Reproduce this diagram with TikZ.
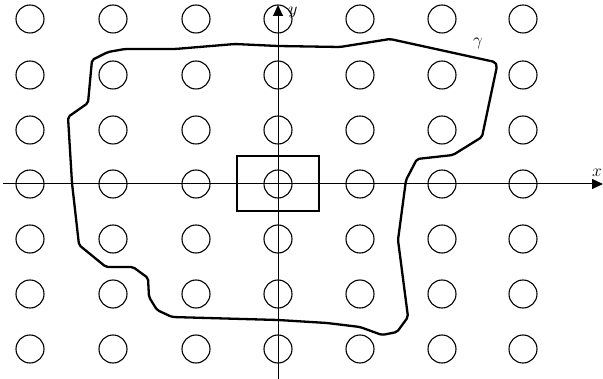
\documentclass[tikz,border=0pt]{standalone}
\usetikzlibrary{arrows.meta}
\begin{document}
\begin{tikzpicture}[x=1pt,y=-1pt,
    hole/.style={circle,draw,line width=1.1pt,minimum size=28pt,inner sep=0pt},
    axis/.style={line width=1pt,-{Triangle[length=11pt,width=10pt]}},
    lab/.style={font=\fontsize{17}{17}\selectfont,inner sep=1pt}]
  \useasboundingbox (0,0) rectangle (603,379);
  % lattice of holes
  \foreach \i/\x in {1/30,2/113,3/196,4/278,5/360,6/442,7/523}
    \foreach \j/\y in {1/19,2/75,3/130,4/184,5/239,6/294,7/349}
      \node[hole] (h\i\j) at (\x,\y) {};
  % axes
  \coordinate (xl) at (3,184);
  \coordinate (xr) at (603,184);
  \coordinate (yb) at (278,379);
  \coordinate (yt) at (278,5);
  \draw[axis] (xl) -- (xr);
  \draw[axis] (yb) -- (yt);
  \node[lab] (ylab) at (293,12) {$y$};
  \node[lab] (xlab) at (597,173) {$x$};
  % unit cell
  \node[draw,line width=1.6pt,minimum width=82pt,minimum height=55pt,inner sep=0pt]
    (cell) at (278,183.5) {};
  % contour
  \draw[line width=2.3pt,line join=round,rounded corners=2pt]
    (92,60) -- (108,52) -- (125,49) -- (175,49) -- (235,44) -- (278,46)
    -- (340,47) -- (390,39) -- (495,62) -- (497,66) -- (482,137)
    -- (453,155) -- (417,159) -- (406,180) -- (398,240) -- (408,317)
    -- (397,332) -- (382,335) -- (360,327) -- (327,323) -- (278,320)
    -- (172,317) -- (157,310) -- (149,297) -- (148,278) -- (133,267)
    -- (106,267) -- (79,245) -- (72,183) -- (68,117) -- (88,103) -- cycle;
  \node[lab] (glab) at (478,43) {$\gamma$};
\end{tikzpicture}
\end{document}
